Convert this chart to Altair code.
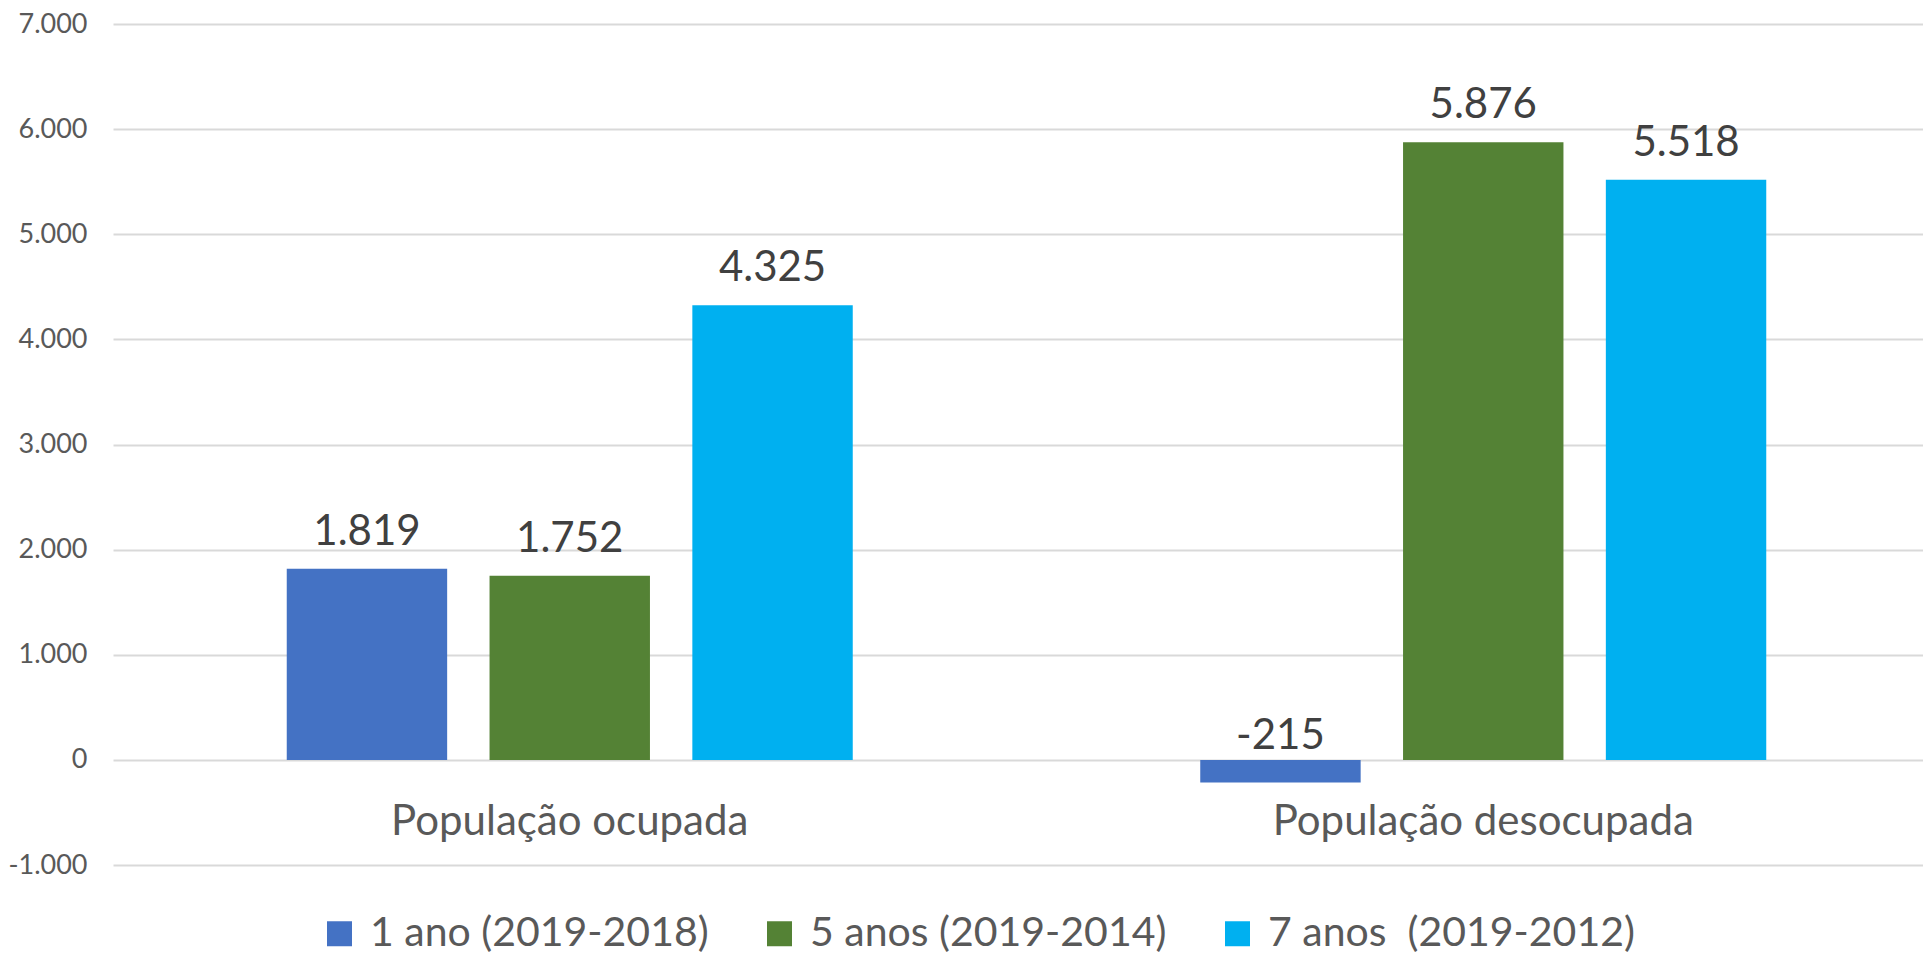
import altair as alt
import pandas as pd

categories = ["População ocupada", "População desocupada"]
series = ["1 ano (2019-2018)", "5 anos (2019-2014)", "7 anos\u00a0 (2019-2012)"]
values_1ano = [1819, -215]
values_5anos = [1752, 5876]
values_7anos = [4325, 5518]
colors = ["#4472C4", "#548235", "#00B0F0"]
y_ticks = [-1000, 0, 1000, 2000, 3000, 4000, 5000, 6000, 7000]

rows = []
for s, vals in zip(series, [values_1ano, values_5anos, values_7anos]):
    for c, v in zip(categories, vals):
        rows.append({"cat": c, "series": s, "v": v})
df = pd.DataFrame(rows)

FONT = "Lato"
fmt_expr = "(datum.v < 0 ? '-' : '') + replace(format(abs(datum.v), ','), ',', '.')"

x_axis = alt.Axis(
    title=None, labelAngle=0, ticks=False, tickSize=0, domain=False, grid=False,
    offset=-105.5, labelPadding=75, labelBaseline="alphabetic", labelLimit=800,
    labelFontSize=42, labelColor="#595959", labelFont=FONT,
)
y_axis = alt.Axis(
    title=None, values=y_ticks, ticks=False, tickSize=0, domain=False, grid=True,
    labelPadding=26, labelFontSize=27, labelColor="#595959", labelFont=FONT,
    gridColor="#D9D9D9", gridWidth=2,
    labelExpr="(datum.value < 0 ? '-' : '') + replace(format(abs(datum.value), ','), ',', '.')",
)
x_scale = alt.Scale(range=[0, 1827], paddingInner=0.334, paddingOuter=0.167)
xoff_scale = alt.Scale(paddingInner=0.209, paddingOuter=0.1045)
y_scale = alt.Scale(domain=[-1000, 7000], nice=False, zero=False)

bars = alt.Chart(df).mark_bar().encode(
    x=alt.X("cat:N", sort=categories, scale=x_scale, axis=x_axis),
    xOffset=alt.XOffset("series:N", sort=series, scale=xoff_scale),
    y=alt.Y("v:Q", scale=y_scale, axis=y_axis),
    color=alt.Color(
        "series:N", sort=series,
        scale=alt.Scale(domain=series, range=colors),
        legend=alt.Legend(
            title=None, orient="none", legendX=206, legendY=889,
            direction="horizontal", columns=3, columnPadding=50,
            symbolType="square", symbolSize=625, symbolStrokeWidth=0, symbolOpacity=1,
            labelFontSize=41, labelFont=FONT, labelColor="#595959", labelOffset=10,
            labelLimit=0, padding=0,
        ),
    ),
)

labels_base = alt.Chart(df).transform_calculate(
    ly="max(datum.v, 0)", lbl=fmt_expr
)


def label_layer(filt, dy):
    return labels_base.transform_filter(filt).mark_text(
        baseline="alphabetic", dy=dy, fontSize=42, font=FONT, color="#404040"
    ).encode(
        x=alt.X("cat:N", sort=categories, scale=x_scale, axis=x_axis),
        xOffset=alt.XOffset("series:N", sort=series, scale=xoff_scale),
        y=alt.Y("ly:Q", scale=y_scale, axis=y_axis),
        text="lbl:N",
    )


pos_labels = label_layer("datum.v >= 0", -24)
neg_labels = label_layer("datum.v < 0", -11)

chart = alt.layer(bars, pos_labels, neg_labels).properties(
    width=1810, height=841,
    autosize=alt.AutoSizeParams(type="none"),
    padding={"left": 105, "top": 16, "right": 0, "bottom": 91},
).configure(font=FONT).configure_view(stroke=None)

chart.save("out.html", embed_options={"renderer": "svg", "actions": False})
